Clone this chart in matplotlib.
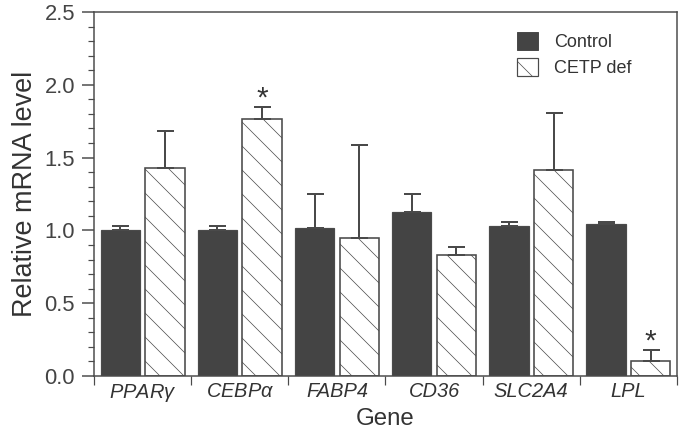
import matplotlib
matplotlib.use("Agg")
import matplotlib.pyplot as plt
import numpy as np
from matplotlib.ticker import MultipleLocator, FixedLocator, NullFormatter
from matplotlib.patches import Patch

genes = ["PPAR$\\gamma$", "CEBP$\\alpha$", "FABP4", "CD36", "SLC2A4", "LPL"]
control = [1.00, 1.00, 1.016, 1.126, 1.03, 1.046]
control_err = [0.028, 0.028, 0.234, 0.124, 0.026, 0.012]
cetp = [1.43, 1.763, 0.946, 0.833, 1.417, 0.10]
cetp_err = [0.25, 0.087, 0.641, 0.055, 0.389, 0.08]
significant = [False, True, False, False, False, True]

plt.rcParams['font.family'] = ['Liberation Sans', 'DejaVu Sans']
plt.rcParams['mathtext.fontset'] = 'custom'
plt.rcParams['mathtext.it'] = 'Liberation Sans:italic'
plt.rcParams['mathtext.rm'] = 'Liberation Sans'
plt.rcParams['hatch.linewidth'] = 0.7
plt.rcParams['hatch.color'] = '#ababab'

dark = '#444444'
edge = '#4a4a4a'

fig = plt.figure(figsize=(681/72, 436/72), dpi=72)
ax = fig.add_axes([94/681, (436-376)/436, (677-94)/681, (376-12)/436])

x = np.arange(len(genes))
w = 0.405
off = 0.23

ax.bar(x - off, control, width=w, color=dark, edgecolor=edge, linewidth=1.2,
       yerr=[np.zeros(len(x)), control_err],
       error_kw=dict(ecolor=edge, elinewidth=2, capsize=8.5, capthick=2),
       zorder=2)
ax.bar(x + off, cetp, width=w, color='white', edgecolor=edge, linewidth=1.6,
       hatch='\\', yerr=[np.zeros(len(x)), cetp_err],
       error_kw=dict(ecolor=edge, elinewidth=2, capsize=8.5, capthick=2),
       zorder=2)

for i, s in enumerate(significant):
    if s:
        ax.annotate('*', xy=(x[i] + off, cetp[i] + cetp_err[i]), xytext=(0, 0),
                    textcoords='offset points', ha='center', va='baseline',
                    fontsize=30, color='#333333')

ax.set_xlim(-0.5, len(genes) - 0.5)
ax.set_ylim(0, 2.5)

ax.yaxis.set_major_locator(MultipleLocator(0.5))
ax.yaxis.set_minor_locator(MultipleLocator(0.1))
ax.tick_params(axis='y', which='major', direction='out', length=12, width=1.5,
               color=edge, labelsize=22, labelcolor='#444444', pad=7)
ax.tick_params(axis='y', which='minor', direction='out', length=6, width=1.2,
               color=edge)
ax.yaxis.set_major_formatter(matplotlib.ticker.FormatStrFormatter('%.1f'))

ax.set_xticks(x)
ax.set_xticklabels(genes, fontstyle='italic')
ax.xaxis.set_minor_locator(FixedLocator(np.arange(-0.5, len(genes), 1.0)))
ax.xaxis.set_minor_formatter(NullFormatter())
ax.tick_params(axis='x', which='major', length=0, labelsize=20,
               labelcolor='#333333', pad=6)
ax.tick_params(axis='x', which='minor', direction='out', length=9, width=1.2,
               color=edge)

for sp in ax.spines.values():
    sp.set_color(edge)
    sp.set_linewidth(1.5)

ax.set_ylabel('Relative mRNA level', fontsize=27, color='#333333', labelpad=6)
ax.set_xlabel('Gene', fontsize=24, color='#333333', labelpad=4)

handles = [Patch(facecolor=dark, edgecolor=edge, linewidth=1.0),
           Patch(facecolor='white', edgecolor=edge, linewidth=1.2, hatch='\\')]
ax.legend(handles, ['Control', 'CETP def'], loc='upper right',
          bbox_to_anchor=(0.95, 0.99), frameon=False, fontsize=18,
          handlelength=1.15, handleheight=1.15, handletextpad=0.9,
          labelspacing=0.4, labelcolor='#333333')

fig.savefig('out.png', dpi=72)
